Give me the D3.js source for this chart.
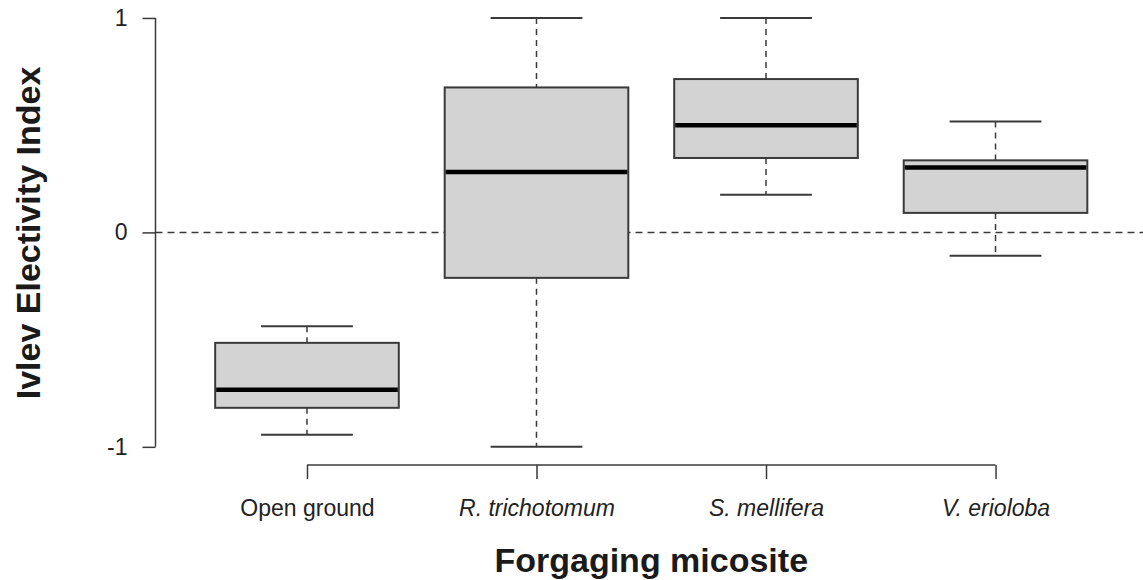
<!DOCTYPE html>
<html>
<head>
<meta charset="utf-8">
<script src="https://cdn.jsdelivr.net/npm/d3@7"></script>
<style>
  html, body { margin: 0; padding: 0; background: #fff; }
  svg { display: block; font-family: "Liberation Sans", Arial, Helvetica, sans-serif; }
</style>
</head>
<body>
<svg id="chart" width="1143" height="580"></svg>
<script>
// ---- data ----
const categories = ["Open ground", "R. trichotomum", "S. mellifera", "V. erioloba"];
const italicLabels = [false, true, true, true];
const whiskerLow  = [-0.944, -1.000, 0.175, -0.109];
const q1          = [-0.818, -0.212, 0.347,  0.091];
const median      = [-0.734,  0.282, 0.500,  0.303];
const q3          = [-0.515,  0.676, 0.715,  0.336];
const whiskerHigh = [-0.438,  1.000, 1.000,  0.517];
const yTicks = [-1, 0, 1];
const yTickLabels = ["-1", "0", "1"];
const yTitle = "Ivlev Electivity Index";
const xTitle = "Forgaging micosite";

const svg = d3.select("#chart");
const stroke = "#3a3a3a";

// scales (R-style 4% extension)
const x = d3.scaleLinear().domain([0.34, 4.66]).range([155.5, 1147]);
const y = d3.scaleLinear().domain([-1.08, 1.08]).range([464, 0.8]);
const boxHalf = (x(1.4) - x(1));      // box width 0.8
const capHalf = boxHalf / 2;          // staple 0.5

const data = categories.map((c, i) => ({
  c, i, pos: i + 1,
  lo: whiskerLow[i], q1: q1[i], med: median[i], q3: q3[i], hi: whiskerHigh[i]
}));

// reference line at 0
svg.append("line")
  .attr("x1", x(0.34)).attr("x2", 1143)
  .attr("y1", y(0)).attr("y2", y(0))
  .attr("stroke", stroke).attr("stroke-width", 1.5)
  .attr("stroke-dasharray", "7,5");

const g = svg.append("g").selectAll("g").data(data).join("g");

// whiskers (dashed)
g.append("line")
  .attr("x1", d => x(d.pos)).attr("x2", d => x(d.pos))
  .attr("y1", d => y(d.hi)).attr("y2", d => y(d.q3))
  .attr("stroke", stroke).attr("stroke-width", 1.5).attr("stroke-dasharray", "6,5");
g.append("line")
  .attr("x1", d => x(d.pos)).attr("x2", d => x(d.pos))
  .attr("y1", d => y(d.q1)).attr("y2", d => y(d.lo))
  .attr("stroke", stroke).attr("stroke-width", 1.5).attr("stroke-dasharray", "6,5");
// staples
g.append("line")
  .attr("x1", d => x(d.pos) - capHalf).attr("x2", d => x(d.pos) + capHalf)
  .attr("y1", d => y(d.hi)).attr("y2", d => y(d.hi))
  .attr("stroke", stroke).attr("stroke-width", 2);
g.append("line")
  .attr("x1", d => x(d.pos) - capHalf).attr("x2", d => x(d.pos) + capHalf)
  .attr("y1", d => y(d.lo)).attr("y2", d => y(d.lo))
  .attr("stroke", stroke).attr("stroke-width", 2);
// boxes
g.append("rect")
  .attr("x", d => x(d.pos) - boxHalf).attr("width", 2 * boxHalf)
  .attr("y", d => y(d.q3)).attr("height", d => y(d.q1) - y(d.q3))
  .attr("fill", "#d3d3d3").attr("stroke", stroke).attr("stroke-width", 2);
// medians
g.append("line")
  .attr("x1", d => x(d.pos) - boxHalf + 1).attr("x2", d => x(d.pos) + boxHalf - 1)
  .attr("y1", d => y(d.med)).attr("y2", d => y(d.med))
  .attr("stroke", "#000").attr("stroke-width", 4.5);

// y axis
const yAxis = d3.axisLeft(y).tickValues(yTicks)
  .tickFormat((d, i) => yTickLabels[i]).tickSize(13).tickPadding(15).tickSizeOuter(0);
const ya = svg.append("g").attr("transform", `translate(${x(0.34)},0)`).call(yAxis);
ya.select(".domain").remove();
ya.selectAll(".tick line").attr("stroke", stroke).attr("stroke-width", 1.5);
ya.selectAll(".tick text").attr("font-size", 23).attr("fill", "#222")
  .attr("font-family", '"Liberation Sans", Arial, sans-serif');
ya.append("line").attr("x1", 0).attr("x2", 0)
  .attr("y1", y(1)).attr("y2", y(-1))
  .attr("stroke", stroke).attr("stroke-width", 1.5);

// x axis
const xAxis = d3.axisBottom(x).tickValues([1, 2, 3, 4])
  .tickFormat((d, i) => categories[i]).tickSize(14).tickPadding(21).tickSizeOuter(0);
const xa = svg.append("g").attr("transform", `translate(0,${y(-1.08) + 1})`).call(xAxis);
xa.select(".domain").remove();
xa.selectAll(".tick line").attr("stroke", stroke).attr("stroke-width", 1.5);
xa.selectAll(".tick text").attr("font-size", 23).attr("fill", "#222")
  .attr("font-family", '"Liberation Sans", Arial, sans-serif')
  .attr("font-style", (d, i) => italicLabels[i] ? "italic" : "normal");
xa.append("line").attr("x1", x(1)).attr("x2", x(4))
  .attr("y1", 0).attr("y2", 0)
  .attr("stroke", stroke).attr("stroke-width", 1.5);

// titles
svg.append("text")
  .attr("transform", "translate(40,233) rotate(-90)")
  .attr("text-anchor", "middle")
  .attr("font-size", 34).attr("font-weight", "bold").attr("fill", "#1a1a1a")
  .text(yTitle);
svg.append("text")
  .attr("x", (x(0.34) + x(4.66)) / 2).attr("y", 572)
  .attr("text-anchor", "middle")
  .attr("font-size", 34).attr("font-weight", "bold").attr("fill", "#1a1a1a")
  .text(xTitle);
</script>
</body>
</html>
